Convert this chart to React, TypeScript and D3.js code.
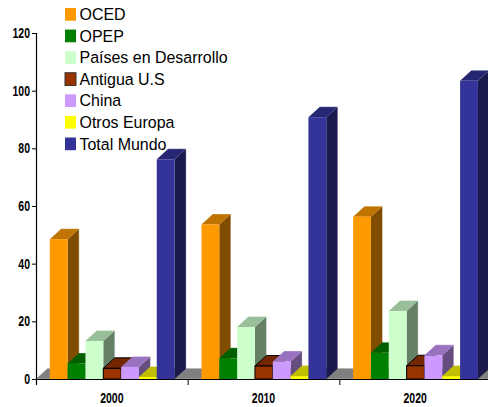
import React, { useEffect, useRef } from 'react';
import * as d3 from 'd3';

const years = ['2000', '2010', '2020'];
const seriesNames = ['OCED', 'OPEP', 'Países en Desarrollo', 'Antigua U.S', 'China', 'Otros Europa', 'Total Mundo'];
const oced = [48.5, 53.6, 56.3];
const opep = [5.4, 7.2, 9.1];
const desarrollo = [13.2, 18, 23.6];
const antigua = [3.7, 4.5, 4.6];
const china = [4.2, 6.1, 8.2];
const otrosEuropa = [0.7, 1, 1];
const totalMundo = [76.2, 90.8, 103.4];
const seriesValues = [oced, opep, desarrollo, antigua, china, otrosEuropa, totalMundo];
const yTicks = [0, 20, 40, 60, 80, 100, 120];

// front, top, side
const colors = [
  ['#ff9900', '#bf7300', '#804d00'],
  ['#008000', '#006000', '#004000'],
  ['#ccffcc', '#99bf99', '#668066'],
  ['#993300', '#732600', '#4d1a00'],
  ['#cc99ff', '#9973bf', '#664d80'],
  ['#ffff00', '#bfbf00', '#808000'],
  ['#333399', '#262673', '#1a1a4d'],
];

const width = 488;
const height = 407;
const depthX = 11.5;
const depthY = 10.5;
const tickScale = 0.75; // las etiquetas del original son angostas

const y = d3.scaleLinear([0, 120], [379, 33]);
const x0 = d3.scaleBand(years, [36, 491]);
const x1 = d3.scaleBand(seriesNames, [13.8, 138.6]);
const legendY = d3.scalePoint(seriesNames, [14, 143.5]);

const poly = (pts: number[][]) => 'M' + pts.map(p => p.join(',')).join('L') + 'Z';
const line = (pts: number[][]) => 'M' + pts.map(p => p.join(',')).join('L');

export default function App() {
  const yRef = useRef<SVGGElement>(null);
  const xRef = useRef<SVGGElement>(null);

  useEffect(() => {
    const yAxis = d3.axisLeft(y).tickValues(yTicks).tickSize(4).tickPadding(2);
    const xAxis = d3
      .axisBottom(d3.scaleLinear([0, 3], [36, 491]))
      .ticks(3)
      .tickFormat(() => '')
      .tickSize(6);
    const gy = d3.select(yRef.current!).call(yAxis as any);
    const gx = d3.select(xRef.current!).call(xAxis as any);
    for (const g of [gy, gx]) {
      g.selectAll('path').attr('stroke', '#000').attr('stroke-width', 1.2);
      g.selectAll('line').attr('stroke', '#000');
    }
    gy.selectAll('text')
      .attr('fill', '#000')
      .attr('x', -6 / tickScale)
      .attr('transform', `scale(${tickScale},1)`)
      .style('font-family', '"Liberation Sans", sans-serif')
      .style('font-size', '14px')
      .style('font-weight', 'bold');
  }, []);

  const base = y(0);

  return (
    <svg
      width={width}
      height={height}
      viewBox={`0 0 ${width} ${height}`}
      style={{ position: 'absolute', left: 0, top: 0, background: '#fff' }}
    >
      {/* piso */}
      <path
        d={poly([
          [36, base],
          [36 + depthX, base - depthY],
          [491 + depthX, base - depthY],
          [491, base],
        ])}
        fill="#808080"
        stroke="#b5b5b5"
        strokeWidth={0.6}
      />

      {years.map((year, i) => (
        <g key={year}>
          {seriesNames.map((name, s) => {
            const left = x0(year)! + x1(name)!;
            const w = x1.bandwidth();
            const right = left + w;
            const top = y(seriesValues[s][i]);
            const [front, topFace, side] = colors[s];
            const edge = name === 'Antigua U.S' ? '#000' : 'none';
            return (
              <g key={name}>
                <path
                  d={poly([
                    [right, top],
                    [right + depthX, top - depthY],
                    [right + depthX, base - depthY],
                    [right, base],
                  ])}
                  fill={side}
                  stroke={edge}
                />
                <path
                  d={poly([
                    [left, top],
                    [left + depthX, top - depthY],
                    [right + depthX, top - depthY],
                    [right, top],
                  ])}
                  fill={topFace}
                  stroke={edge}
                />
                <rect x={left} y={top} width={w} height={base - top} fill={front} stroke={edge} />
                {/* borde claro atras */}
                {name !== 'Antigua U.S' && (
                  <path
                    d={line([
                      [left + depthX, top - depthY],
                      [right + depthX, top - depthY],
                      [right + depthX, base - depthY],
                    ])}
                    fill="none"
                    stroke="#fff"
                    strokeOpacity={0.45}
                    strokeWidth={0.7}
                  />
                )}
              </g>
            );
          })}
          <text
            transform={`translate(${x0(year)! + x0.bandwidth() / 2},402.5) scale(${tickScale},1)`}
            textAnchor="middle"
            fontFamily='"Liberation Sans", sans-serif'
            fontSize={14}
            fontWeight="bold"
          >
            {year}
          </text>
        </g>
      ))}

      <g ref={yRef} transform="translate(36,0)" />
      <g ref={xRef} transform={`translate(0,${base})`} />

      {seriesNames.map((name, s) => (
        <g key={name} transform={`translate(65,${legendY(name)})`}>
          <rect
            x={0}
            y={-6}
            width={11}
            height={12.7}
            fill={colors[s][0]}
            stroke={name === 'Antigua U.S' ? '#333' : 'none'}
          />
          <text
            transform="translate(14.5,6) scale(0.94,1)"
            fontFamily='"Liberation Sans", Arial, sans-serif'
            fontSize={17}
            fill="#000"
          >
            {name}
          </text>
        </g>
      ))}
    </svg>
  );
}
